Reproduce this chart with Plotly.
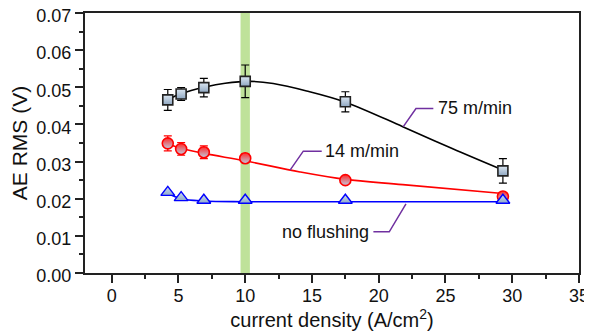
import plotly.graph_objects as go

# ---- data ----
x_75 = [4.2, 5.2, 6.9, 10.0, 17.5, 29.3]
y_75 = [0.0466, 0.0482, 0.0499, 0.0516, 0.0461, 0.0275]
e_75 = [0.0028, 0.0017, 0.0025, 0.0044, 0.0027, 0.0033]

x_14 = [4.2, 5.2, 6.9, 10.0, 17.5, 29.3]
y_14 = [0.0349, 0.0334, 0.0325, 0.0309, 0.0250, 0.0206]
e_14 = [0.0020, 0.0017, 0.0017, 0.0012, 0.0, 0.0]

x_nf = [4.2, 5.2, 6.9, 10.0, 17.5, 29.3]
y_nf = [0.0217, 0.0203, 0.0196, 0.0196, 0.0196, 0.0196]

# fitted curves
fx_75 = [4.2, 5.2, 7.0, 8.5, 10.4, 12.1, 14.6, 17.5, 21.8, 25.5, 29.3]
fy_75 = [0.0466, 0.0483, 0.0501, 0.0511, 0.0516, 0.0510, 0.0490, 0.0460, 0.0394, 0.0335, 0.0277]
fx_14 = [4.2, 5.2, 6.9, 10.0, 14.1, 17.5, 21.8, 29.3]
fy_14 = [0.0347, 0.0336, 0.0322, 0.0302, 0.0272, 0.0252, 0.0238, 0.0214]
fx_nf = [4.2, 5.2, 6.9, 10.0, 29.3]
fy_nf = [0.0214, 0.0200, 0.0194, 0.0192, 0.0192]

band = [9.65, 10.35]

xticks = [0, 5, 10, 15, 20, 25, 30, 35]
yticks = [0.00, 0.01, 0.02, 0.03, 0.04, 0.05, 0.06, 0.07]

FONT = "Liberation Sans, Arial, sans-serif"
PURPLE = "#7030a0"

fig = go.Figure()

# green band
fig.add_shape(type="rect", xref="x", yref="paper", x0=band[0], x1=band[1], y0=0, y1=1,
              fillcolor="#bfe29a", line_width=0, layer="below")

# fit lines
fig.add_trace(go.Scatter(x=fx_75, y=fy_75, mode="lines", line=dict(color="black", width=1.6, shape="spline"), hoverinfo="skip"))
fig.add_trace(go.Scatter(x=fx_14, y=fy_14, mode="lines", line=dict(color="#ff0000", width=1.6, shape="spline"), hoverinfo="skip"))
fig.add_trace(go.Scatter(x=fx_nf, y=fy_nf, mode="lines", line=dict(color="#0000ff", width=1.6, shape="spline"), hoverinfo="skip"))

# markers
fig.add_trace(go.Scatter(
    x=x_75, y=y_75, mode="markers",
    error_y=dict(type="data", array=e_75, color="black", thickness=1.2, width=4),
    marker=dict(symbol="square", size=10, color="#dce7f2",
                gradient=dict(type="vertical", color="#8ea6c0"),
                line=dict(color="#222222", width=1.6))))
fig.add_trace(go.Scatter(
    x=x_14, y=y_14, mode="markers",
    error_y=dict(type="data", array=e_14, color="#ff0000", thickness=1.2, width=4),
    marker=dict(symbol="circle", size=11, color="#ff2a2a",
                gradient=dict(type="vertical", color="#c0cce0"),
                line=dict(color="#ff0000", width=1.6))))
fig.add_trace(go.Scatter(
    x=x_nf, y=y_nf, mode="markers",
    marker=dict(symbol="triangle-up", size=12, color="#cddcec",
                gradient=dict(type="vertical", color="#8fa9cb"),
                line=dict(color="#0000ff", width=1.4))))

# leader lines
leaders = [
    ([21.84, 22.79, 24.09], [0.0394, 0.0443, 0.0443]),
    ([13.36, 14.35, 15.73], [0.0277, 0.0328, 0.0328]),
    ([22.04, 20.79, 19.60], [0.0186, 0.0111, 0.0111]),
]
for lx, ly in leaders:
    fig.add_trace(go.Scatter(x=lx, y=ly, mode="lines", line=dict(color=PURPLE, width=1.5), hoverinfo="skip"))

fig.add_annotation(x=24.3, y=0.0443, text="75 m/min", showarrow=False, xanchor="left", yanchor="middle",
                   font=dict(family=FONT, size=18, color="#111"))
fig.add_annotation(x=15.85, y=0.0328, text="14 m/min", showarrow=False, xanchor="left", yanchor="middle",
                   font=dict(family=FONT, size=18, color="#111"))
fig.add_annotation(x=19.45, y=0.0111, text="no flushing", showarrow=False, xanchor="right", yanchor="middle",
                   font=dict(family=FONT, size=18, color="#111"))

axis_common = dict(showgrid=False, zeroline=False, showline=True, linecolor="#222222", linewidth=2,
                   mirror=True, ticks="outside", tickcolor="#222222", tickwidth=1.5, ticklen=8,
                   automargin=False, ticklabeloverflow="allow",
                   tickfont=dict(family=FONT, size=18, color="#111"))

# page body has an 8px default margin, so the figure is drawn 8px smaller
fig.update_layout(
    width=584, height=326,
    margin=dict(l=77, r=13, t=5, b=61),
    paper_bgcolor="white", plot_bgcolor="white",
    showlegend=False,
    xaxis=dict(range=[-2, 35], tickvals=xticks, ticktext=[str(v) for v in xticks],
               ticklabelstandoff=-3,
               minor=dict(dtick=2.5, tick0=0, ticks="outside", ticklen=4, tickcolor="#222222", tickwidth=1.5),
               title=dict(text="current density (A/cm<sup>2</sup>)", font=dict(family=FONT, size=20, color="#111"), standoff=0),
               **axis_common),
    yaxis=dict(range=[0, 0.07], tickvals=yticks, ticktext=[f"{v:.2f}" for v in yticks],
               ticklabelshift=3,
               minor=dict(dtick=0.005, tick0=0, ticks="outside", ticklen=4, tickcolor="#222222", tickwidth=1.5),
               title=dict(text="AE RMS (V)", font=dict(family=FONT, size=21, color="#111"), standoff=4),
               **axis_common),
)

fig.write_html("out.html")
